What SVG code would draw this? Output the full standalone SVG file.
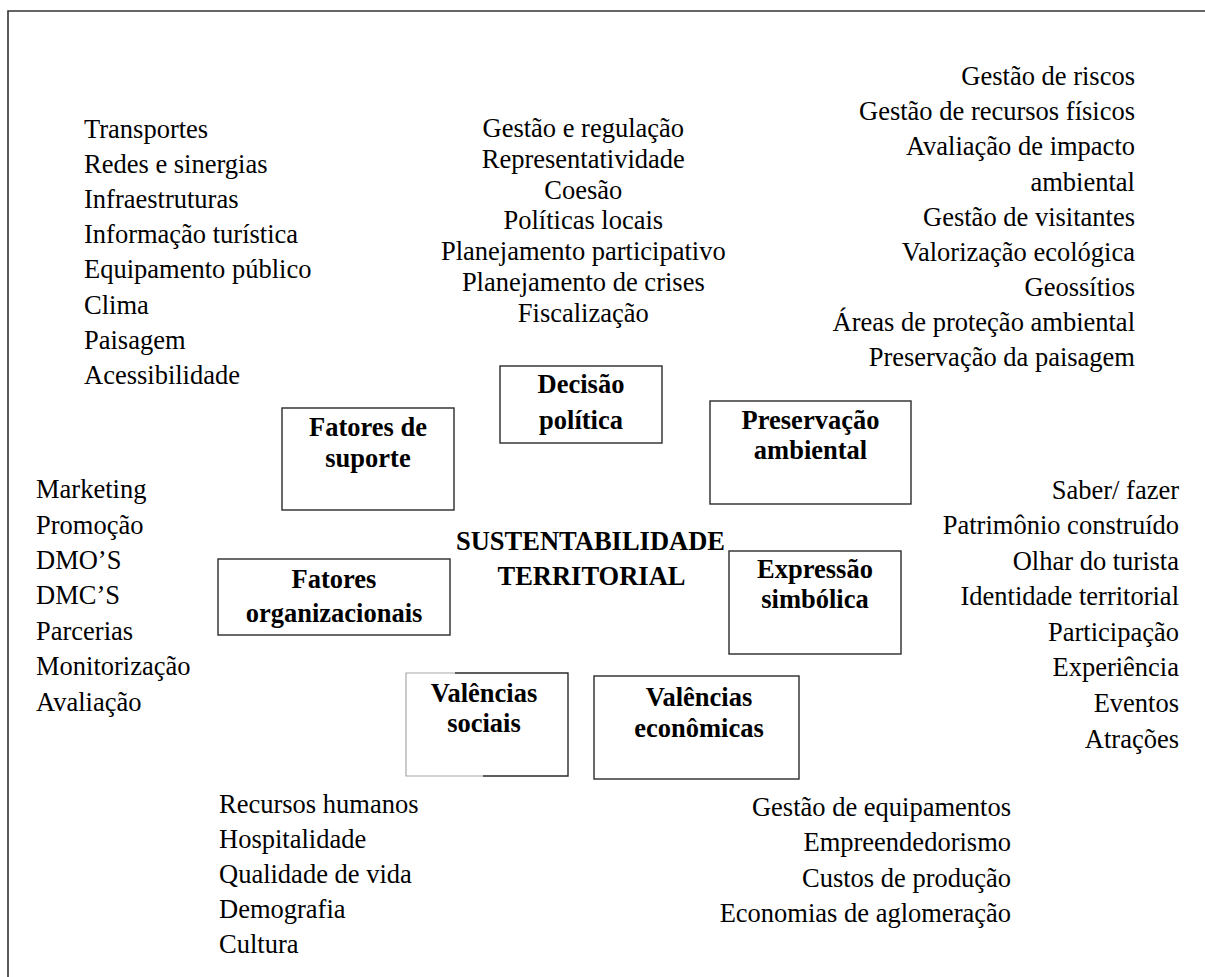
<svg xmlns="http://www.w3.org/2000/svg" width="1205" height="977" viewBox="0 0 1205 977">
<style>
text{font-family:"Liberation Serif","Times New Roman",serif;font-size:26.5px;fill:#000}
.b{font-weight:bold}
.m{text-anchor:middle}
.r{text-anchor:end}
.box{fill:none;stroke:#2a2a2a;stroke-width:1.4}
.lt{fill:none;stroke:#a8a8a8;stroke-width:1.2}
.frame{fill:none;stroke:#333;stroke-width:1.6}
</style>
<rect width="1205" height="977" fill="#fff"/>
<path class="frame" d="M8,977 V11 H1205"/>
<g id="connectors"/>

<g id="list-suporte">
<text x="84" y="138">Transportes</text>
<text x="84" y="173.1">Redes e sinergias</text>
<text x="84" y="208.2">Infraestruturas</text>
<text x="84" y="243.3">Informação turística</text>
<text x="84" y="278.4">Equipamento público</text>
<text x="84" y="313.5">Clima</text>
<text x="84" y="348.6">Paisagem</text>
<text x="84" y="383.7">Acessibilidade</text>
</g>

<g id="list-decisao">
<text class="m" x="583.3" y="137">Gestão e regulação</text>
<text class="m" x="583.3" y="167.8">Representatividade</text>
<text class="m" x="583.3" y="198.6">Coesão</text>
<text class="m" x="583.3" y="229.4">Políticas locais</text>
<text class="m" x="583.3" y="260.2">Planejamento participativo</text>
<text class="m" x="583.3" y="291">Planejamento de crises</text>
<text class="m" x="583.3" y="321.8">Fiscalização</text>
</g>

<g id="list-preservacao">
<text class="r" x="1135" y="85">Gestão de riscos</text>
<text class="r" x="1135" y="120.2">Gestão de recursos físicos</text>
<text class="r" x="1135" y="155.4">Avaliação de impacto</text>
<text class="r" x="1135" y="190.6">ambiental</text>
<text class="r" x="1135" y="225.8">Gestão de visitantes</text>
<text class="r" x="1135" y="261">Valorização ecológica</text>
<text class="r" x="1135" y="296.2">Geossítios</text>
<text class="r" x="1135" y="331.4">Áreas de proteção ambiental</text>
<text class="r" x="1135" y="366">Preservação da paisagem</text>
</g>

<g id="list-organizacionais">
<text x="36" y="498">Marketing</text>
<text x="36" y="533.5">Promoção</text>
<text x="36" y="568.9">DMO’S</text>
<text x="36" y="604.4">DMC’S</text>
<text x="36" y="639.8">Parcerias</text>
<text x="36" y="675.3">Monitorização</text>
<text x="36" y="710.7">Avaliação</text>
</g>

<g id="list-simbolica">
<text class="r" x="1179" y="498.5">Saber/ fazer</text>
<text class="r" x="1179" y="534.1">Patrimônio construído</text>
<text class="r" x="1179" y="569.6">Olhar do turista</text>
<text class="r" x="1179" y="605.2">Identidade territorial</text>
<text class="r" x="1179" y="640.8">Participação</text>
<text class="r" x="1179" y="676.4">Experiência</text>
<text class="r" x="1179" y="711.9">Eventos</text>
<text class="r" x="1179" y="747.5">Atrações</text>
</g>

<g id="list-sociais">
<text x="219" y="813">Recursos humanos</text>
<text x="219" y="848">Hospitalidade</text>
<text x="219" y="883">Qualidade de vida</text>
<text x="219" y="918">Demografia</text>
<text x="219" y="953">Cultura</text>
</g>

<g id="list-economicas">
<text class="r" x="1011" y="816">Gestão de equipamentos</text>
<text class="r" x="1011" y="851.3">Empreendedorismo</text>
<text class="r" x="1011" y="886.6">Custos de produção</text>
<text class="r" x="1011" y="921.9">Economias de aglomeração</text>
</g>

<g id="center">
<text class="b m" x="590.5" y="550">SUSTENTABILIDADE</text>
<text class="b m" x="591.5" y="585">TERRITORIAL</text>
</g>

<g id="node-decisao">
<rect class="box" x="500" y="366" width="162" height="77"/>
<text class="b m" x="581" y="393.3">Decisão</text>
<text class="b m" x="581" y="429">política</text>
</g>

<g id="node-suporte">
<rect class="box" x="282" y="408" width="172" height="102"/>
<text class="b m" x="368" y="436">Fatores de</text>
<text class="b m" x="368" y="466.7">suporte</text>
</g>

<g id="node-preservacao">
<rect class="box" x="710" y="401" width="201" height="103"/>
<text class="b m" x="810.5" y="429.3">Preservação</text>
<text class="b m" x="810.5" y="459.3">ambiental</text>
</g>

<g id="node-organizacionais">
<rect class="box" x="218" y="559" width="232" height="76"/>
<text class="b m" x="334" y="587.7">Fatores</text>
<text class="b m" x="334" y="621.7">organizacionais</text>
</g>

<g id="node-simbolica">
<rect class="box" x="729" y="551" width="172" height="103"/>
<text class="b m" x="815" y="578.3">Expressão</text>
<text class="b m" x="815" y="608.3">simbólica</text>
</g>

<g id="node-sociais">
<path class="lt" d="M455,673 H406 V776 H483"/>
<path class="box" d="M455,673 H568 V776 H483"/>
<text class="b m" x="484" y="701.7">Valências</text>
<text class="b m" x="484" y="731.7">sociais</text>
</g>

<g id="node-economicas">
<rect class="box" x="594" y="676" width="205" height="103"/>
<text class="b m" x="699" y="705.7">Valências</text>
<text class="b m" x="699" y="736.7">econômicas</text>
</g>
</svg>
